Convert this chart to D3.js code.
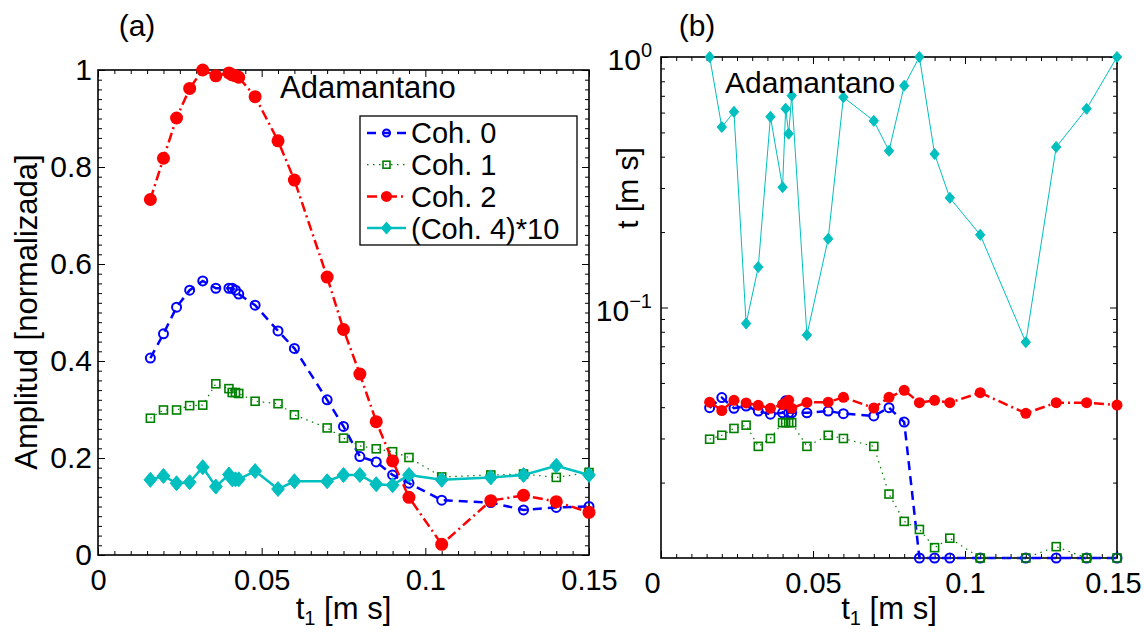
<!DOCTYPE html>
<html>
<head>
<meta charset="utf-8">
<script src="https://cdn.jsdelivr.net/npm/d3@7"></script>
<style>
  body { margin: 0; background: #fff; }
  text { font-family: "Liberation Sans", Arial, sans-serif; fill: #000; }
</style>
</head>
<body>
<svg id="fig" width="1144" height="633"></svg>
<script>
// evolution time t1 [ms], shared by every series
const t1 = [0.016, 0.020, 0.024, 0.028, 0.032, 0.036, 0.040, 0.041, 0.042, 0.043, 0.048, 0.055,
            0.060, 0.070, 0.075, 0.080, 0.085, 0.090, 0.095, 0.105, 0.120, 0.130, 0.140, 0.150];

// (a) normalized amplitudes
const coh0 = [0.406, 0.456, 0.511, 0.546, 0.565, 0.550, 0.550, 0.550, 0.546, 0.538, 0.515, 0.462,
              0.426, 0.320, 0.265, 0.203, 0.192, 0.165, 0.148, 0.113, 0.108, 0.093, 0.098, 0.100];
const coh1 = [0.282, 0.299, 0.299, 0.308, 0.309, 0.353, 0.343, 0.335, 0.335, 0.333, 0.317, 0.312,
              0.289, 0.262, 0.241, 0.225, 0.219, 0.213, 0.201, 0.161, 0.165, 0.167, 0.160, 0.170];
const coh2 = [0.733, 0.818, 0.901, 0.962, 1.000, 0.988, 0.994, 0.990, 0.988, 0.985, 0.945, 0.854,
              0.773, 0.573, 0.465, 0.373, 0.275, 0.194, 0.119, 0.022, 0.112, 0.123, 0.110, 0.088];
const coh4x10 = [0.155, 0.163, 0.148, 0.150, 0.181, 0.141, 0.166, 0.156, 0.156, 0.156, 0.173, 0.136,
                 0.152, 0.152, 0.165, 0.165, 0.146, 0.144, 0.165, 0.155, 0.160, 0.165, 0.184, 0.165];

// (b) decay times t [ms], log axis
const tau0 = [0.0398, 0.0437, 0.0396, 0.0404, 0.0386, 0.0375, 0.0380, 0.0424, 0.0380, 0.0380, 0.0380, 0.0386,
              0.0377, 0.0369, 0.0398, 0.0349, 0.0100, 0.0100, 0.0100, 0.0100, 0.0100, 0.0100, 0.0100, 0.0100];
const tau1 = [0.0298, 0.0309, 0.0329, 0.0339, 0.0279, 0.0300, 0.0347, 0.0347, 0.0347, 0.0347, 0.0279, 0.0309,
              0.0300, 0.0279, 0.0180, 0.0140, 0.0130, 0.0110, 0.0120, 0.0100, 0.0100, 0.0111, 0.0100, 0.0100];
const tau2 = [0.0419, 0.0388, 0.0426, 0.0416, 0.0407, 0.0396, 0.0410, 0.0417, 0.0426, 0.0396, 0.0418, 0.0419,
              0.0438, 0.0397, 0.0438, 0.0467, 0.0417, 0.0426, 0.0417, 0.0457, 0.0378, 0.0417, 0.0417, 0.0408];
const tau4 = [1.000, 0.525, 0.604, 0.0863, 0.145, 0.577, 0.302, 0.622, 0.494, 0.701, 0.0776, 0.188,
              0.691, 0.556, 0.422, 0.768, 1.000, 0.410, 0.274, 0.195, 0.0727, 0.437, 0.621, 1.000];

const xTicks = [0, 0.05, 0.1, 0.15];
const xTickLabels = ["0", "0.05", "0.1", "0.15"];
const yTicksA = [0, 0.2, 0.4, 0.6, 0.8, 1];
const yTickLabelsA = ["0", "0.2", "0.4", "0.6", "0.8", "1"];
const yTicksB = [1, 0.1];
const yTickExpB = ["0", "\u22121"];
const legendLabels = ["Coh. 0", "Coh. 1", "Coh. 2", "(Coh. 4)*10"];

const svg = d3.select("#fig");

const styles = [
  { color: "#0000ff", dash: "9,6", marker: "circle" },
  { color: "#008000", dash: "1.5,4.5", marker: "square" },
  { color: "#ff0000", dash: "10,4,2,4", marker: "dot" },
  { color: "#00bfbf", dash: null, marker: "diamond" }
];

function drawMarker(g, cx, cy, st, s) {
  if (st.marker === "circle") {
    g.append("circle").attr("cx", cx).attr("cy", cy).attr("r", s)
      .attr("fill", "none").attr("stroke", st.color).attr("stroke-width", 2);
  } else if (st.marker === "square") {
    g.append("rect").attr("x", cx - s).attr("y", cy - s).attr("width", 2 * s).attr("height", 2 * s)
      .attr("fill", "none").attr("stroke", st.color).attr("stroke-width", 1.6);
  } else if (st.marker === "dot") {
    g.append("circle").attr("cx", cx).attr("cy", cy).attr("r", s).attr("fill", st.color);
  } else {
    g.append("path")
      .attr("d", `M${cx},${cy - s}L${cx + s * 0.85},${cy}L${cx},${cy + s}L${cx - s * 0.85},${cy}Z`)
      .attr("fill", st.color).attr("stroke", st.color).attr("stroke-width", 1);
  }
}

function drawSeries(g, x, y, values, st, size, lw) {
  const pts = t1.map((t, i) => [x(t), y(values[i])]);
  g.append("path")
    .attr("d", d3.line()(pts))
    .attr("fill", "none")
    .attr("stroke", st.color)
    .attr("stroke-width", lw)
    .attr("stroke-dasharray", st.dash);
  pts.forEach(p => drawMarker(g, p[0], p[1], st, size));
}

function frame(g, x, y, box, yMinor, xMinor, majorY, yFmt) {
  const [x0, y0, x1, y1] = box;
  const clean = s => s.select(".domain").remove();
  // x major with labels
  const bottom = g.append("g").attr("transform", `translate(0,${y1})`)
    .call(d3.axisBottom(x).tickValues(xTicks).tickSize(-7).tickPadding(14)
      .tickFormat((d, i) => xTickLabels[i]))
    .call(clean);
  bottom.selectAll("text").attr("font-size", 29).attr("font-family", "Liberation Sans, Arial, sans-serif");
  g.append("g").attr("transform", `translate(0,${y1})`)
    .call(d3.axisBottom(x).tickValues(xMinor).tickSize(-4).tickFormat("")).call(clean);
  g.append("g").attr("transform", `translate(0,${y0})`)
    .call(d3.axisTop(x).tickValues(xTicks).tickSize(-7).tickFormat("")).call(clean);
  g.append("g").attr("transform", `translate(0,${y0})`)
    .call(d3.axisTop(x).tickValues(xMinor).tickSize(-4).tickFormat("")).call(clean);
  // y ticks
  const left = g.append("g").attr("transform", `translate(${x0},0)`)
    .call(d3.axisLeft(y).tickValues(majorY).tickSize(-7).tickPadding(6).tickFormat(yFmt))
    .call(clean);
  left.selectAll("text").attr("font-size", 30).attr("font-family", "Liberation Sans, Arial, sans-serif");
  g.append("g").attr("transform", `translate(${x0},0)`)
    .call(d3.axisLeft(y).tickValues(yMinor).tickSize(-4).tickFormat("")).call(clean);
  g.append("g").attr("transform", `translate(${x1},0)`)
    .call(d3.axisRight(y).tickValues(majorY).tickSize(-7).tickFormat("")).call(clean);
  g.append("g").attr("transform", `translate(${x1},0)`)
    .call(d3.axisRight(y).tickValues(yMinor).tickSize(-4).tickFormat("")).call(clean);
  g.selectAll(".tick line").attr("stroke", "#000").attr("stroke-width", 1);
  g.append("rect").attr("x", x0).attr("y", y0).attr("width", x1 - x0).attr("height", y1 - y0)
    .attr("fill", "none").attr("stroke", "#000").attr("stroke-width", 1.6);
  // x label t1 [m s]
  const xl = g.append("text").attr("x", (x0 + x1) / 2).attr("y", 619)
    .attr("text-anchor", "middle").attr("font-size", 31);
  xl.append("tspan").text("t");
  xl.append("tspan").attr("font-size", 20).attr("dy", 6).text("1");
  xl.append("tspan").attr("dy", -6).text(" [m s]");
  return { left, bottom };
}

const xMinor = d3.range(0, 0.1501, 0.005).filter(v => Math.abs(v / 0.05 - Math.round(v / 0.05)) > 1e-6);

// ---------- panel (a)
const boxA = [98, 70, 589, 555];
const xA = d3.scaleLinear().domain([0, 0.15]).range([boxA[0], boxA[2]]);
const yA = d3.scaleLinear().domain([0, 1]).range([boxA[3], boxA[1]]);
const gA = svg.append("g");
const yMinorA = d3.range(0, 1.0001, 0.02).filter(v => Math.abs(v / 0.2 - Math.round(v / 0.2)) > 1e-6);
frame(gA, xA, yA, boxA, yMinorA, xMinor, yTicksA, (d, i) => yTickLabelsA[i]);

const seriesA = [coh0, coh1, coh2, coh4x10];
const sizeA = [4.5, 4, 6.5, 7.5];
const lwA = [2.5, 1.2, 2.5, 2.5];
seriesA.forEach((vals, k) => drawSeries(gA, xA, yA, vals, styles[k], sizeA[k], lwA[k]));

gA.append("text").attr("x", 280).attr("y", 98).attr("font-size", 31).text("Adamantano");
gA.append("text").attr("x", 137).attr("y", 36).attr("text-anchor", "middle").attr("font-size", 30).text("(a)");
gA.append("text").attr("transform", "translate(37,312) rotate(-90)")
  .attr("text-anchor", "middle").attr("font-size", 31).text("Amplitud [normalizada]");

// legend
const leg = gA.append("g");
leg.append("rect").attr("x", 360).attr("y", 116).attr("width", 217).attr("height", 129)
  .attr("fill", "#fff").attr("stroke", "#000").attr("stroke-width", 1.3);
legendLabels.forEach((lab, k) => {
  const yy = 133 + k * 31.7;
  const st = styles[k];
  leg.append("line").attr("x1", 367).attr("x2", 406).attr("y1", yy).attr("y2", yy)
    .attr("stroke", st.color).attr("stroke-width", lwA[k]).attr("stroke-dasharray", st.dash);
  drawMarker(leg, 386.5, yy, st, k === 2 ? 5.5 : k === 3 ? 6 : 3.5);
  leg.append("text").attr("x", 411).attr("y", yy).attr("dy", "0.36em").attr("font-size", 29).text(lab);
});

// ---------- panel (b)
const boxB = [661, 57, 1117, 558];
const xB = d3.scaleLinear().domain([0, 0.15]).range([boxB[0], boxB[2]]);
const yB = d3.scaleLog().domain([0.01, 1]).range([boxB[3], boxB[1]]);
const gB = svg.append("g");
const yMinorB = [2, 3, 4, 5, 6, 7, 8, 9].map(v => v * 0.01).concat([2, 3, 4, 5, 6, 7, 8, 9].map(v => v * 0.1));
const axB = frame(gB, xB, yB, boxB, yMinorB, xMinor, yTicksB, () => "");
axB.left.selectAll(".tick text").remove();
// keep the last x label inside the picture, the first one sits left of its tick as in the original
axB.bottom.selectAll(".tick text").attr("dx", (d, i) => i === 3 ? -4 : i === 0 ? -9 : 0);
yTicksB.forEach((v, i) => {
  const tx = gB.append("text").attr("x", 652).attr("y", yB(v) + 13)
    .attr("text-anchor", "end").attr("font-size", 30);
  tx.append("tspan").text("10");
  tx.append("tspan").attr("font-size", 20).attr("dy", -13).text(yTickExpB[i]);
});

const seriesB = [tau0, tau1, tau2, tau4];
const sizeB = [4.5, 4, 5.5, 5.5];
const lwB = [2.5, 1.2, 2.5, 1];
seriesB.forEach((vals, k) => drawSeries(gB, xB, yB, vals, styles[k], sizeB[k], lwB[k]));

gB.append("text").attr("x", 725).attr("y", 93).attr("font-size", 30).text("Adamantano");
gB.append("text").attr("x", 697).attr("y", 36).attr("text-anchor", "middle").attr("font-size", 30).text("(b)");
gB.append("text").attr("transform", "translate(638,188) rotate(-90)")
  .attr("text-anchor", "middle").attr("font-size", 30).text("t [m s]");
</script>
</body>
</html>
